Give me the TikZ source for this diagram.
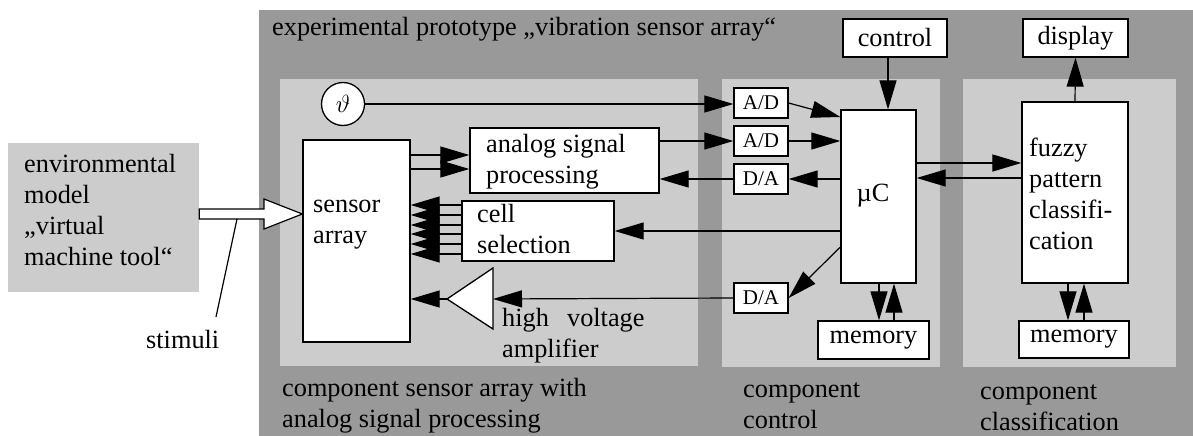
\documentclass[tikz,border=0pt]{standalone}
\usepackage{fontspec}
\setmainfont{Liberation Serif}
\usetikzlibrary{arrows.meta}
\definecolor{darkpanel}{gray}{0.6}
\definecolor{lightpanel}{gray}{0.8}
\tikzset{
  box/.style={draw, fill=white, line width=1.3pt, inner sep=0pt},
  arr/.style={line width=1.2pt, -{Triangle[length=29pt,width=17pt]}},
  ln/.style={line width=1.2pt},
  txt/.style={anchor=base west, inner sep=0pt, align=left},
  smallfont/.style={font=\fontsize{21}{25}\selectfont},
}
\begin{document}
\begin{tikzpicture}[x=1pt,y=-1pt,font=\fontsize{26.3}{31}\selectfont]
\useasboundingbox (0,0) rectangle (1193,436);
% panels
\fill[darkpanel] (259,10) rectangle (1193,436);
\fill[lightpanel] (280,79) rectangle (698,366);
\fill[lightpanel] (722,79) rectangle (940,367);
\fill[lightpanel] (963,79) rectangle (1176,367);
\fill[lightpanel] (8,143) rectangle (199,292);
\node (env) [inner sep=0pt, minimum width=191, minimum height=149] at (103.5,217.5) {};

% titles (multi-line nodes: base = baseline of last line)
\node[txt] (title) at (272,36) {experimental prototype „vibration sensor array“};
\node[txt] (envtext) at (24,265) {environmental\\model\\„virtual\\machine tool“};
\node[txt] (stimuli) at (146,348) {stimuli};
\node[txt] (comp1) at (282,427) {component sensor array with\\analog signal processing};
\node[txt] (comp2) at (743,428) {component\\control};
\node[txt] (comp3) at (980,430) {component\\classification};

% boxes
\node[box, minimum width=107, minimum height=202] (sensor) at (356.5,241) {};
\node[txt] (sensortext) at (313,243) {sensor\\array};
\node[box, minimum width=189, minimum height=65] (asp) at (564.5,160.5) {};
\node[txt] (asptext) at (486,183) {analog signal\\processing};
\node[box, minimum width=152, minimum height=60] (cell) at (538,231) {};
\node[txt] (celltext) at (477,253) {cell\\selection};
\node[box, circle, minimum size=43] (theta) at (343,104) {$\vartheta$};
\node[box, smallfont, minimum width=54, minimum height=30] (ad1) at (761,103) {A/D};
\node[box, smallfont, minimum width=54, minimum height=30] (ad2) at (761,141) {A/D};
\node[box, smallfont, minimum width=54, minimum height=30] (da1) at (761,179) {D/A};
\node[box, smallfont, minimum width=54, minimum height=30] (da2) at (761,298) {D/A};
\node[box, minimum width=75, minimum height=173] (uc) at (878.5,196.5) {};
\node (uctext) at (873,196) {µC};
\node[box, minimum width=104, minimum height=38] (control) at (895,38) {control};
\node[box, minimum width=111, minimum height=38] (mem1) at (873.5,340) {memory};
\node[box, minimum width=105, minimum height=38] (display) at (1075.5,38) {display};
\node[box, minimum width=106, minimum height=181] (fuzzy) at (1075,192.5) {};
\node[txt] (fuzzytext) at (1029,249) {fuzzy\\pattern\\classifi-\\cation};
\node[box, minimum width=110, minimum height=37] (mem2) at (1074,339.5) {memory};

% amplifier
\coordinate (ampL) at (447,299);
\coordinate (ampR) at (493,299);
\draw[box] (ampL) -- (493,268) -- (493,329) -- cycle;
\node[txt] (amptext) at (502,357) {high\hspace{0.69em}voltage\\amplifier};

% stimuli arrow
\draw[box, line width=1.2pt] (env.east |- 0,209) -- (264,209) -- (264,199) -- (sensor.west |- 0,214)
  -- (264,229) -- (264,219) -- (env.east |- 0,219) -- cycle;
\coordinate (stimtop) at (237,219);
\coordinate (stimend) at (216,317);
\draw[ln] (stimtop) -- (stimend);

% connectors
\draw[arr] (theta.east) -- (ad1.west |- theta.east);
\draw[arr] (ad1.east) -- (uc.west |- 0,117);
\draw[arr] (asp.east |- ad2.west) -- (ad2.west);
\draw[arr] (ad2.east) -- (uc.west |- ad2.east);
\draw[arr] (uc.west |- da1.east) -- (da1.east);
\draw[arr] (da1.west) -- (asp.east |- da1.west);
\draw[arr] (uc.west |- cell.east) -- (cell.east);
\draw[arr] (uc.west |- 0,247) -- (da2.east);
\draw[arr] (da2.west) -- (ampR);
\draw[arr] (ampL) -- (sensor.east |- ampL);
\draw[arr] (sensor.east |- 0,155) -- (asp.west |- 0,155);
\draw[arr] (sensor.east |- 0,169) -- (asp.west |- 0,169);
\foreach \yy in {205,215,225,234,244,254}
  \draw[arr] (cell.west |- 0,\yy) -- (sensor.east |- 0,\yy);
\draw[arr] (control.south -| 888,0) -- (uc.north -| 888,0);
\draw[arr] (uc.south -| 879,0) -- (mem1.north -| 879,0);
\draw[arr] (mem1.north -| 894,0) -- (uc.south -| 894,0);
\draw[arr] (uc.east |- 0,163) -- (fuzzy.west |- 0,163);
\draw[arr] (fuzzy.west |- 0,178) -- (uc.east |- 0,178);
\draw[arr] (fuzzy.north) -- (display.south);
\draw[arr] (fuzzy.south -| 1068,0) -- (mem2.north -| 1068,0);
\draw[arr] (mem2.north -| 1084,0) -- (fuzzy.south -| 1084,0);
\end{tikzpicture}
\end{document}
